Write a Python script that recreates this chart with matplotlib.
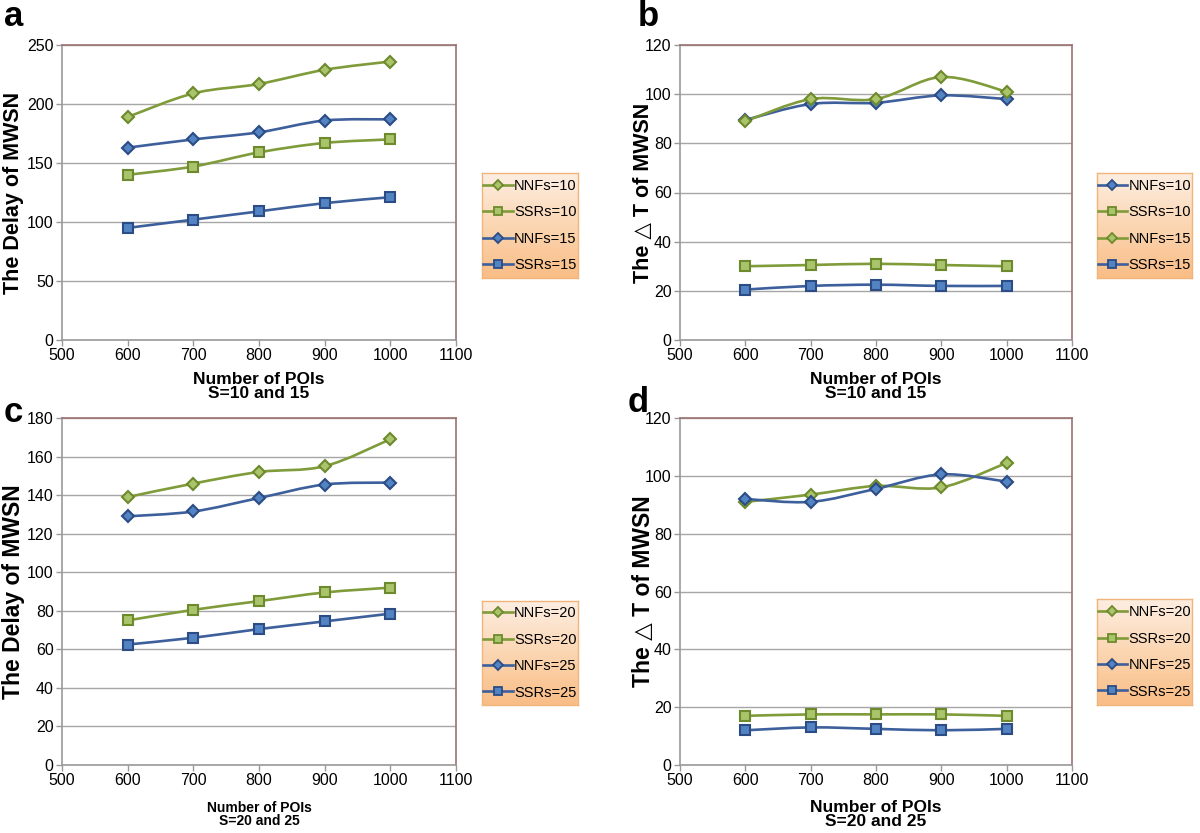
import numpy as np
import matplotlib
matplotlib.use("Agg")
import matplotlib.pyplot as plt
from matplotlib.path import Path
from matplotlib.patches import PathPatch
from matplotlib.lines import Line2D
from matplotlib.colors import LinearSegmentedColormap

plt.rcParams['font.family'] = ['Liberation Sans', 'DejaVu Sans']

# ---------------- data ----------------
pois = [600, 700, 800, 900, 1000]
x_ticks = [500, 600, 700, 800, 900, 1000, 1100]

# panel a : delay, S=10 and 15
a_nnf10 = [189, 209, 217, 229, 236]
a_ssr10 = [140, 147, 159, 167, 170]
a_nnf15 = [163, 170, 176, 186, 187]
a_ssr15 = [95, 102, 109, 116, 121]

# panel b : delta T, S=10 and 15
b_nnf10 = [89.5, 96, 96.5, 99.5, 98]
b_ssr10 = [30, 30.5, 31, 30.5, 30]
b_nnf15 = [89, 98, 98, 107, 101]
b_ssr15 = [20.5, 22, 22.5, 22, 22]

# panel c : delay, S=20 and 25
c_nnf20 = [139, 146, 152, 155, 169]
c_ssr20 = [75, 80.5, 85, 89.5, 92]
c_nnf25 = [129, 131.5, 138.5, 145.5, 146.5]
c_ssr25 = [62.5, 66, 70.5, 74.5, 78.5]

# panel d : delta T, S=20 and 25
d_nnf20 = [91, 93.5, 96.5, 96, 104.5]
d_ssr20 = [17, 17.5, 17.5, 17.5, 17]
d_nnf25 = [92, 91, 95.5, 100.5, 98]
d_ssr25 = [12, 13, 12.5, 12, 12.5]

labels_a = ['NNFs=10', 'SSRs=10', 'NNFs=15', 'SSRs=15']
labels_b = ['NNFs=10', 'SSRs=10', 'NNFs=15', 'SSRs=15']
labels_c = ['NNFs=20', 'SSRs=20', 'NNFs=25', 'SSRs=25']
labels_d = ['NNFs=20', 'SSRs=20', 'NNFs=25', 'SSRs=25']

# ---------------- styles ----------------
GREEN = dict(line='#7f9b3a', face='#a9c46a', edge='#6d8a2c')
BLUE = dict(line='#3d5f9b', face='#5283c2', edge='#2c4c85')

def smooth_path(xs, ys):
    pts = np.column_stack([xs, ys]).astype(float)
    n = len(pts)
    verts = [pts[0]]
    codes = [Path.MOVETO]
    for i in range(n - 1):
        p0 = pts[i - 1] if i > 0 else pts[i]
        p1 = pts[i]
        p2 = pts[i + 1]
        p3 = pts[i + 2] if i + 2 < n else pts[i + 1]
        c1 = p1 + (p2 - p0) / 6.0
        c2 = p2 - (p3 - p1) / 6.0
        verts += [c1, c2, p2]
        codes += [Path.CURVE4] * 3
    return Path(verts, codes)

def draw_series(ax, ys, col, marker):
    ax.add_patch(PathPatch(smooth_path(pois, ys), facecolor='none',
                           edgecolor=col['line'], lw=1.9, zorder=3))
    ms = 6 if marker == 'D' else 6.5
    ax.plot(pois, ys, linestyle='none', marker=marker, markersize=ms,
            markerfacecolor=col['face'], markeredgecolor=col['edge'],
            markeredgewidth=1.5, zorder=4)

def handle(col, marker):
    return Line2D([], [], color=col['line'], lw=1.9, marker=marker,
                  markersize=5 if marker == 'D' else 5.5,
                  markerfacecolor=col['face'], markeredgecolor=col['edge'],
                  markeredgewidth=1.3)

def style_axes(ax, ymax, ystep):
    ax.set_xlim(500, 1100)
    ax.set_ylim(0, ymax)
    ax.set_xticks(x_ticks)
    ax.set_xticklabels([str(t) for t in x_ticks])
    ax.set_yticks(np.arange(0, ymax + 1, ystep))
    ax.tick_params(axis='both', labelsize=11.5, color='#999999', length=4,
                   width=1, direction='out', pad=2)
    ax.grid(axis='y', color='#a6a6a6', lw=1)
    ax.set_axisbelow(True)
    for s in ['left', 'bottom']:
        ax.spines[s].set_color('#9a9a9a')
        ax.spines[s].set_linewidth(1.2)
    for s in ['top', 'right']:
        ax.spines[s].set_color('#9c7272')
        ax.spines[s].set_linewidth(1.2)

fig = plt.figure(figsize=(12, 8.33), dpi=100)

W, H = 1200.0, 833.0
def fa(x0, y0, x1, y1):
    return [x0 / W, 1 - y1 / H, (x1 - x0) / W, (y1 - y0) / H]

grad_cmap = LinearSegmentedColormap.from_list('g', ['#fdeee2', '#fbd6b2', '#f9bd86'])

def legend_box(rect, handles, labels):
    lax = fig.add_axes(rect)
    grad = np.linspace(0, 1, 100).reshape(-1, 1)
    lax.imshow(grad, aspect='auto', cmap=grad_cmap, extent=[0, 1, 0, 1],
               origin='upper')
    lax.set_xlim(0, 1); lax.set_ylim(0, 1)
    lax.set_xticks([]); lax.set_yticks([])
    for s in lax.spines.values():
        s.set_color('#f1b57c')
        s.set_linewidth(1)
    lax.legend(handles, labels, loc='center', frameon=False, fontsize=10.5,
               handlelength=2.0, handletextpad=0.1, labelspacing=0.85,
               borderpad=0.2, borderaxespad=0.1)

panels = [
    dict(rect=fa(62, 45, 456, 340), ymax=250, ystep=50,
         series=[(a_nnf10, GREEN, 'D'), (a_ssr10, GREEN, 's'),
                 (a_nnf15, BLUE, 'D'), (a_ssr15, BLUE, 's')],
         labels=labels_a, ylabel='The Delay of MWSN', yl_fs=15.5,
         xlabel='Number of POIs\nS=10 and 15', xl_y=372, xl_fs=12.5,
         leg=fa(482, 173, 578, 278), letter='a', letter_xy=(4, 0),
         ylab_x=14),
    dict(rect=fa(680, 45, 1072, 340), ymax=120, ystep=20,
         series=[(b_nnf10, BLUE, 'D'), (b_ssr10, GREEN, 's'),
                 (b_nnf15, GREEN, 'D'), (b_ssr15, BLUE, 's')],
         labels=labels_b, ylabel='The △ T of MWSN', yl_fs=15.5,
         xlabel='Number of POIs\nS=10 and 15', xl_y=372, xl_fs=12.5,
         leg=fa(1097, 173, 1192, 278), letter='b', letter_xy=(638, 0),
         ylab_x=643),
    dict(rect=fa(62, 418, 456, 765), ymax=180, ystep=20,
         series=[(c_nnf20, GREEN, 'D'), (c_ssr20, GREEN, 's'),
                 (c_nnf25, BLUE, 'D'), (c_ssr25, BLUE, 's')],
         labels=labels_c, ylabel='The Delay of MWSN', yl_fs=16.5,
         xlabel='Number of POIs\nS=20 and 25', xl_y=801, xl_fs=10,
         leg=fa(482, 601, 578, 705), letter='c', letter_xy=(4, 396),
         ylab_x=14),
    dict(rect=fa(680, 418, 1072, 765), ymax=120, ystep=20,
         series=[(d_nnf20, GREEN, 'D'), (d_ssr20, GREEN, 's'),
                 (d_nnf25, BLUE, 'D'), (d_ssr25, BLUE, 's')],
         labels=labels_d, ylabel='The △ T of MWSN', yl_fs=16.5,
         xlabel='Number of POIs\nS=20 and 25', xl_y=800, xl_fs=12.5,
         leg=fa(1097, 599, 1192, 705), letter='d', letter_xy=(628, 386),
         ylab_x=643),
]

for p in panels:
    ax = fig.add_axes(p['rect'])
    style_axes(ax, p['ymax'], p['ystep'])
    for ys, col, mk in p['series']:
        draw_series(ax, ys, col, mk)
    r = p['rect']
    fig.text(p['ylab_x'] / W, r[1] + r[3] / 2, p['ylabel'], rotation=90,
             ha='center', va='center', fontsize=p['yl_fs'], fontweight='bold')
    fig.text(r[0] + r[2] * 0.5, 1 - p['xl_y'] / H, p['xlabel'], ha='center',
             va='top', fontsize=p['xl_fs'], fontweight='bold', linespacing=0.95)
    fig.text(p['letter_xy'][0] / W, 1 - p['letter_xy'][1] / H, p['letter'],
             ha='left', va='top', fontsize=25, fontweight='bold')
    handles = [handle(col, mk) for _, col, mk in p['series']]
    legend_box(p['leg'], handles, p['labels'])

fig.savefig('out.png', dpi=100)
